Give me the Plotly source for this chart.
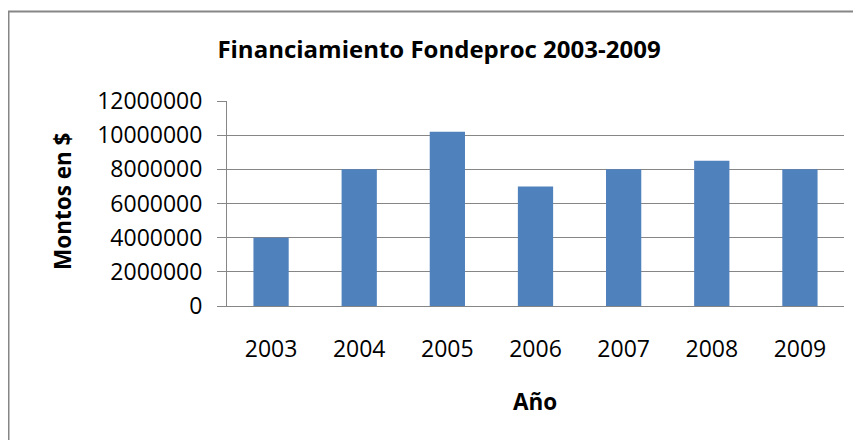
import plotly.graph_objects as go

years = ["2003", "2004", "2005", "2006", "2007", "2008", "2009"]
montos = [4000000, 8000000, 10200000, 7000000, 8000000, 8500000, 8000000]
y_ticks = [0, 2000000, 4000000, 6000000, 8000000, 10000000, 12000000]
y_labels = ["0", "2000000", "4000000", "6000000", "8000000", "10000000", "12000000"]

# page has an 8px body margin; figure coordinates = page coordinates - 8
OFF = 8
W, H = 861 - OFF, 440 - OFF
L, R, T, B = 227 - OFF, 844 - OFF, 101 - OFF, 306 - OFF
pw, ph = R - L, B - T

def px(x):
    return (x - OFF - L) / pw

def py(y):
    return (B - (y - OFF)) / ph

FONT = "Open Sans, Lato, DejaVu Sans, sans-serif"

fig = go.Figure(go.Bar(x=years, y=montos, marker=dict(color="#4F81BD", line=dict(width=0)),
                       width=0.4))

fig.update_layout(
    width=W, height=H,
    margin=dict(l=L, r=W - R, t=T, b=H - B, pad=0),
    paper_bgcolor="white", plot_bgcolor="white",
    showlegend=False,
    font=dict(family=FONT, color="#000000", size=23),
    title=dict(text="<b>Financiamiento Fondeproc 2003-2009</b>", x=(439 - OFF) / W, xanchor="center",
               y=1 - (50 - OFF) / H, yanchor="middle", font=dict(size=24, family=FONT)),
    xaxis=dict(showgrid=False, showline=True, linecolor="#868686", linewidth=1,
               ticks="outside", ticklen=22, tickcolor="rgba(0,0,0,0)",
               tickfont=dict(size=23, family=FONT)),
    yaxis=dict(range=[0, 12000000], tickvals=y_ticks, ticktext=y_labels,
               showgrid=True, gridcolor="#868686", gridwidth=1,
               showline=True, linecolor="#868686", linewidth=1,
               ticks="outside", ticklen=9, tickcolor="#868686", ticklabelstandoff=10,
               tickfont=dict(size=23, family=FONT), zeroline=False),
    shapes=[dict(type="rect", xref="paper", yref="paper",
                 x0=px(8.5), x1=px(900), y0=py(480), y1=py(11.5),
                 line=dict(color="#868686", width=2), fillcolor="rgba(0,0,0,0)", layer="below")],
    annotations=[
        dict(text="<b>Montos en $</b>", xref="paper", yref="paper", x=px(62), y=py(202),
             textangle=-90, showarrow=False, xanchor="center", yanchor="middle",
             font=dict(size=22.5, family=FONT)),
        dict(text="<b>Año</b>", xref="paper", yref="paper", x=px(535), y=py(401),
             showarrow=False, xanchor="center", yanchor="middle",
             font=dict(size=22.5, family=FONT)),
    ],
)

fig.write_html("out.html")
